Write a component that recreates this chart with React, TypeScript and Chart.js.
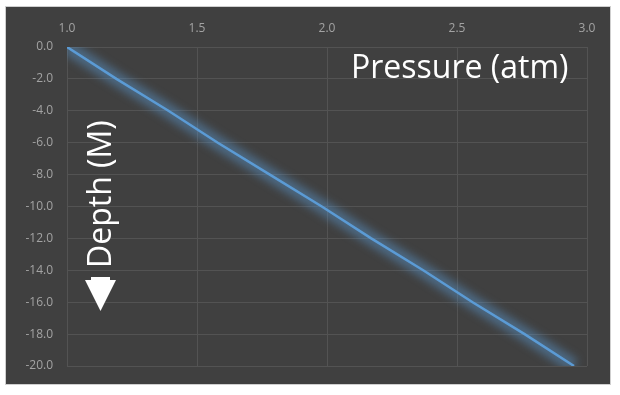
import React, { useEffect, useRef } from "react";
import { Chart, registerables } from "chart.js";

Chart.register(...registerables);

const depths = [0, -2, -4, -6, -8, -10, -12, -14, -16, -18, -20];
const pressures = [1.0, 1.19, 1.39, 1.58, 1.78, 1.98, 2.17, 2.37, 2.56, 2.76, 2.95];
const xTitle = "Pressure (atm)";
const yTitle = "Depth (M)";

const panelPlugin = {
  id: "panel",
  beforeDraw(chart: any) {
    const ctx = chart.ctx;
    ctx.save();
    ctx.fillStyle = "#ffffff";
    ctx.fillRect(0, 0, chart.width, chart.height);
    ctx.fillStyle = "#404040";
    ctx.fillRect(6, 7, 604, 377);
    ctx.strokeStyle = "#cfcfcf";
    ctx.lineWidth = 1;
    ctx.strokeRect(5.5, 6.5, 605, 378);
    ctx.restore();
  },
  afterDraw(chart: any) {
    const ctx = chart.ctx;
    ctx.save();
    ctx.fillStyle = "#ffffff";
    ctx.font = "32px 'Open Sans'";
    ctx.textAlign = "left";
    ctx.textBaseline = "alphabetic";
    ctx.fillText(xTitle, 351, 78);
    ctx.save();
    ctx.translate(111, 268);
    ctx.rotate(-Math.PI / 2);
    ctx.fillText(yTitle, 0, 0);
    ctx.restore();
    ctx.beginPath();
    ctx.rect(91, 277, 19, 4);
    ctx.fill();
    ctx.beginPath();
    ctx.moveTo(85, 280);
    ctx.lineTo(116, 280);
    ctx.lineTo(100.5, 311);
    ctx.closePath();
    ctx.fill();
    ctx.restore();
  },
};

const glowPlugin = {
  id: "glow",
  beforeDatasetDraw(chart: any, args: any) {
    const ctx = chart.ctx;
    const area = chart.chartArea;
    const pts = args.meta.data;
    ctx.save();
    ctx.beginPath();
    ctx.rect(area.left, area.top, area.right - area.left, area.bottom - area.top);
    ctx.clip();
    ctx.filter = "blur(4px)";
    ctx.strokeStyle = "rgba(91,155,213,0.45)";
    ctx.lineWidth = 14;
    ctx.lineJoin = "round";
    ctx.beginPath();
    pts.forEach((p: any, i: number) => {
      if (i === 0) ctx.moveTo(p.x, p.y);
      else ctx.lineTo(p.x, p.y);
    });
    ctx.stroke();
    ctx.restore();
  },
};

export default function App() {
  const ref = useRef<HTMLCanvasElement | null>(null);
  useEffect(() => {
    document.body.style.margin = "0";
    if (!ref.current) return;
    const chart = new Chart(ref.current, {
      type: "line",
      data: {
        datasets: [
          {
            data: pressures.map((p, i) => ({ x: p, y: depths[i] })),
            borderColor: "#5b9bd5",
            borderWidth: 2.5,
            pointRadius: 0,
            tension: 0,
            fill: false,
          },
        ],
      },
      options: {
        animation: false,
        responsive: false,
        devicePixelRatio: 1,
        layout: { padding: { left: 0, top: 0, right: 33, bottom: 29 } },
        plugins: { legend: { display: false }, tooltip: { enabled: false } },
        scales: {
          x: {
            type: "linear",
            position: "top",
            min: 1,
            max: 3,
            border: { display: false },
            grid: { color: "#535353", lineWidth: 1, drawTicks: false },
            ticks: {
              stepSize: 0.5,
              padding: 11,
              color: "#a3a3a3",
              font: { family: "'Open Sans'", size: 12 },
              callback: (v: any) => Number(v).toFixed(1),
            },
            afterFit: (s: any) => {
              s.height = 47;
            },
          },
          y: {
            type: "linear",
            min: -20,
            max: 0,
            border: { display: false },
            grid: { color: "#535353", lineWidth: 1, drawTicks: false },
            ticks: {
              stepSize: 2,
              padding: 14,
              color: "#a3a3a3",
              font: { family: "'Open Sans'", size: 12 },
              callback: (v: any) => Number(v).toFixed(1),
            },
            afterFit: (s: any) => {
              s.width = 67;
            },
          },
        },
      },
      plugins: [panelPlugin, glowPlugin],
    });
    return () => chart.destroy();
  }, []);
  return <canvas ref={ref} width={620} height={395} style={{ display: "block", width: 620, height: 395 }} />;
}
